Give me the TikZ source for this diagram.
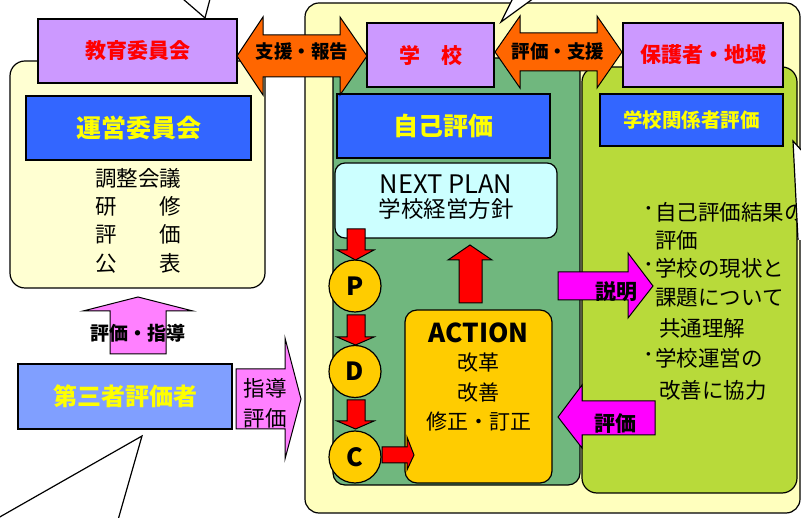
\documentclass[tikz,border=0pt]{standalone}
\usepackage{fontspec}
\setmainfont{Noto Sans CJK JP}
\newcommand\fsz[1]{\fontsize{#1}{#1}\selectfont}
\definecolor{paleL}{HTML}{FFFFD2}
\definecolor{paleM}{HTML}{FFFFBE}
\definecolor{purp}{HTML}{CC99FF}
\definecolor{blu}{HTML}{3366FF}
\definecolor{lblu}{HTML}{809FFF}
\definecolor{orng}{HTML}{FF6600}
\definecolor{dgreen}{HTML}{70B77E}
\definecolor{lgreen}{HTML}{B8DA3A}
\definecolor{cyanbox}{HTML}{CCFFFF}
\definecolor{gold}{HTML}{FFCC00}
\definecolor{pinkL}{HTML}{FF80FF}
\definecolor{magen}{HTML}{FF00FF}
\definecolor{yel}{HTML}{FFFF00}
\tikzset{
  box/.style={draw=black, line width=1.2pt, inner sep=0pt},
  blockarrow/.style={draw=black, line width=1pt, line join=miter},
  callout/.style={draw=black, line width=1.2pt, fill=white},
  lbl/.style={inner sep=0pt, text=black},
}
\begin{document}
\begin{tikzpicture}[x=1pt,y=-1pt]
\useasboundingbox (0,0) rectangle (801,518);
\fill[white] (0,0) rectangle (801,518);

% containers
\node[box, fill=paleL, rounded corners=15, minimum width=255, minimum height=227] (leftbox) at (137.5,174.5) {};
\node[box, fill=paleM, rounded corners=14, minimum width=495, minimum height=510] (mainbox) at (552.5,258) {};
\node[box, fill=dgreen, rounded corners=12, minimum width=247, minimum height=427] (dgbox) at (456.5,271.5) {};
\node[box, fill=lgreen, rounded corners=15, minimum width=215, minimum height=426] (lgbox) at (689.5,280) {};

% callouts
\coordinate (c1a) at (183,-1); \coordinate (c1p) at (205,18); \coordinate (c1b) at (210,-1);
\draw[line width=1.2pt] (c1a) -- (c1p) -- (c1b);
\coordinate (c2a) at (513,-2); \coordinate (c2p) at (501,22); \coordinate (c2b) at (534,-2);
\fill[white] (c2a) -- (c2p) -- (c2b) -- cycle;
\draw[line width=1.2pt] (c2a) -- (c2p) -- (c2b);
\coordinate (c4a) at (-2,518); \coordinate (c4p) at (142,436); \coordinate (c4b) at (118,520);
\draw[line width=1.2pt] (c4a) -- (c4p) -- (c4b);

% boxes
\node[box, fill=purp, minimum width=199, minimum height=64, font=\fsz{21}\bfseries, text=red] (kyoiku) at (137.5,51) {教育委員会};
\node[box, fill=blu, minimum width=225, minimum height=64, font=\fsz{25}\bfseries, text=yel] (unei) at (138.5,128) {運営委員会};
\node[box, fill=lblu, minimum width=214, minimum height=65, font=\fsz{24}\bfseries, text=yel] (daisan) at (125,396.5) {第三者評価者};
\node[box, fill=purp, minimum width=127, minimum height=64, font=\fsz{21}\bfseries, text=red] (gakko) at (430.5,55) {学　校};
\node[box, fill=purp, minimum width=160, minimum height=64, font=\fsz{21}\bfseries, text=red] (hogosha) at (703,55) {保護者・地域};
\node[box, fill=blu, minimum width=213, minimum height=64, font=\fsz{25}\bfseries, text=yel] (jiko) at (443.5,126) {自己評価};
\node[box, fill=blu, minimum width=183, minimum height=52, font=\fsz{19.5}\bfseries, text=yel] (kankei) at (691.5,120) {学校関係者評価};
\node[box, fill=cyanbox, rounded corners=10, minimum width=222, minimum height=75] (nextplan) at (446,200.5) {};
\node[box, fill=gold, rounded corners=12, minimum width=147, minimum height=173] (action) at (478.5,396.5) {};

% left list
\node[lbl, font=\fsz{21.5}] (l1) at (138,178) {調整会議};
\node[lbl, font=\fsz{21.5}] (l2) at (138,206) {研　　修};
\node[lbl, font=\fsz{21.5}] (l3) at (138,234) {評　　価};
\node[lbl, font=\fsz{21.5}] (l4) at (138,263) {公　　表};

% orange double arrows
\path[blockarrow, fill=orng] (237,56) -- (263,17) -- (263,35) -- (340,35) -- (340,17) -- (367,56) -- (340,95) -- (340,77) -- (263,77) -- (263,95) -- cycle;
\node[lbl, font=\fsz{18.5}\bfseries] (shien) at (302,51) {支援・報告};
\path[blockarrow, fill=orng] (495,52) -- (520,16) -- (520,33) -- (597,33) -- (597,16) -- (622,52) -- (597,88) -- (597,71) -- (520,71) -- (520,88) -- cycle;
\node[lbl, font=\fsz{18.5}\bfseries] (hyoka1) at (558,51) {評価・支援};

% pink arrows (left)
\path[blockarrow, fill=pinkL] (138,297) -- (193,311) -- (166,311) -- (166,354) -- (110,354) -- (110,311) -- (83,311) -- cycle;
\node[lbl, font=\fsz{19}\bfseries] (hyoshido) at (138,333) {評価・指導};
\path[blockarrow, fill=pinkL] (236,369) -- (285,369) -- (285,338) -- (301,399) -- (285,459) -- (285,429) -- (236,429) -- cycle;
\node[lbl, font=\fsz{21.5}] (shido) at (265,388) {指導};
\node[lbl, font=\fsz{21.5}] (hyoka2) at (265,418) {評価};

% NEXT PLAN texts
\node[lbl, font=\fsz{25.5}] (np1) at (446,184) {NEXT PLAN};
\node[lbl, font=\fsz{22.5}] (np2) at (446,209) {学校経営方針};

% PDC circles
\node[circle, draw=black, line width=1.2pt, fill=gold, minimum size=52, inner sep=0pt, font=\fsz{25}\bfseries] (P) at (355,286) {P};
\node[circle, draw=black, line width=1.2pt, fill=gold, minimum size=52, inner sep=0pt, font=\fsz{25}\bfseries] (D) at (355,371.5) {D};
\node[circle, draw=black, line width=1.2pt, fill=gold, minimum size=52, inner sep=0pt, font=\fsz{25}\bfseries] (C) at (355,457) {C};

% red arrows
\path[blockarrow, fill=red] (347,229) -- (365,229) -- (365,250) -- (374,250) -- (355.5,260) -- (337,250) -- (347,250) -- cycle;
\path[blockarrow, fill=red] (347,315) -- (365,315) -- (365,337) -- (374,337) -- (355.5,345) -- (337,337) -- (347,337) -- cycle;
\path[blockarrow, fill=red] (347,400) -- (365,400) -- (365,421) -- (374,421) -- (355.5,429) -- (337,421) -- (347,421) -- cycle;
\path[blockarrow, fill=red] (382,447) -- (407,447) -- (407,437) -- (414,455) -- (407,470) -- (407,463) -- (382,463) -- cycle;
\path[blockarrow, fill=red] (470,245) -- (492,260) -- (482,260) -- (482,303) -- (459,303) -- (459,260) -- (448,260) -- cycle;

% ACTION texts
\node[lbl, font=\fsz{26}\bfseries] (act) at (478.5,333) {ACTION};
\node[lbl, font=\fsz{21}] (a1) at (478.5,363) {改革};
\node[lbl, font=\fsz{21}] (a2) at (478.5,393) {改善};
\node[lbl, font=\fsz{21}] (a3) at (478.5,422) {修正・訂正};

% magenta arrows
\path[blockarrow, fill=magen] (558,272) -- (628,272) -- (628,253) -- (653,286) -- (628,318) -- (628,300) -- (558,300) -- cycle;
\node[lbl, font=\fsz{21}\bfseries] (setsumei) at (616,292) {説明};
\path[blockarrow, fill=magen] (558,417) -- (582,385) -- (582,401) -- (655,401) -- (655,435) -- (582,435) -- (582,448) -- cycle;
\node[lbl, font=\fsz{21}\bfseries] (hyoka3) at (615,424) {評価};

% bullet text
\begin{scope}[every node/.style={lbl, anchor=west, font=\fsz{21.5}}]
\node (d1) at (643,212) {･};
\node (b1) at (655,212) {自己評価結果の};
\node (b2) at (655,240) {評価};
\node (d2) at (643,268) {･};
\node (b3) at (655,268) {学校の現状と};
\node (b4) at (655,298) {課題について};
\node (b5) at (659,328) {共通理解};
\node (d3) at (643,358) {･};
\node (b6) at (655,358) {学校運営の};
\node (b7) at (659,390) {改善に協力};
\end{scope}

% right callout
\coordinate (c3p) at (793,141); \coordinate (c3a) at (803,152); \coordinate (c3b) at (798,240);
\fill[white] (c3p) -- (c3a) -- (803,240) -- (c3b) -- cycle;
\draw[line width=1.2pt] (c3a) -- (c3p) -- (c3b);
\end{tikzpicture}
\end{document}
